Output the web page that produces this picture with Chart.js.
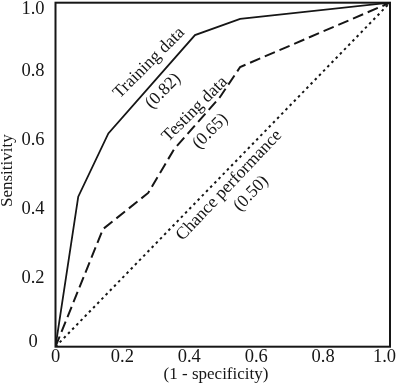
<!DOCTYPE html>
<html>
<head>
<meta charset="utf-8">
<script src="https://cdn.jsdelivr.net/npm/chart.js@4.4.1/dist/chart.umd.min.js"></script>
<style>
  html, body { margin: 0; padding: 0; background: #fff; }
  #wrap { width: 396px; height: 386px; }
</style>
</head>
<body>
<div id="wrap"><canvas id="roc" width="396" height="386"></canvas></div>
<script>
// ROC curves: [1 - specificity, sensitivity]
const trainingX = [0, 0.068, 0.158, 0.417, 0.552, 1];
const trainingY = [0, 0.436, 0.620, 0.906, 0.953, 1];

const testingX = [0, 0.142, 0.277, 0.355, 0.492, 0.552, 1];
const testingY = [0, 0.342, 0.447, 0.575, 0.726, 0.813, 1];

const chanceX = [0, 1];
const chanceY = [0, 1];

const seriesNames = ['Training data', 'Testing data', 'Chance performance'];
const aucValues = ['(0.82)', '(0.65)', '(0.50)'];

const xTicks = [0, 0.2, 0.4, 0.6, 0.8, 1.0];
const xTickLabels = ['0', '0.2', '0.4', '0.6', '0.8', '1.0'];
const yTicks = [0, 0.2, 0.4, 0.6, 0.8, 1.0];
const yTickLabels = ['0', '0.2', '0.4', '0.6', '0.8', '1.0'];

const xTitle = '(1 - specificity)';
const yTitle = 'Sensitivity';

const toPoints = (xs, ys) => xs.map((v, i) => ({ x: v, y: ys[i] }));

const INK = '#161616';
const SERIF = "'Liberation Serif', 'DejaVu Serif', serif";

// where the curve labels sit (data coords) and how far they tilt
const notePlaces = [
    { name: [0.28, 0.825], auc: [0.322, 0.743], angle: 45 },
    { name: [0.417, 0.69], auc: [0.463, 0.626], angle: 45 },
    { name: [0.519, 0.469], auc: [0.585, 0.445], angle: 46.5 }
];

const frameAndText = {
    id: 'frameAndText',
    afterDatasetsDraw(chart) {
        const { ctx, chartArea: a, scales: { x, y } } = chart;
        ctx.save();

        // box round the plot
        ctx.strokeStyle = INK;
        ctx.lineWidth = 2;
        ctx.strokeRect(a.left, a.top, a.right - a.left, a.bottom - a.top);

        ctx.fillStyle = INK;
        ctx.textAlign = 'center';
        ctx.textBaseline = 'middle';
        ctx.font = '18.5px ' + SERIF;

        // y tick labels (kept inside the box's height, like the original)
        yTicks.forEach((v, i) => {
            let py = y.getPixelForValue(v);
            py = Math.min(Math.max(py, a.top + 6.5), a.bottom - 4.5);
            ctx.fillText(yTickLabels[i], 33, py);
        });

        // x tick labels
        xTicks.forEach((v, i) => {
            let px = x.getPixelForValue(v);
            const w = ctx.measureText(xTickLabels[i]).width;
            px = Math.min(px, chart.width - w / 2);
            ctx.fillText(xTickLabels[i], px, a.bottom + 10);
        });

        // axis titles
        ctx.font = '17px ' + SERIF;
        ctx.fillText(xTitle, 216, a.bottom + 28);
        ctx.save();
        ctx.translate(8, (a.top + a.bottom) / 2 - 4);
        ctx.rotate(-Math.PI / 2);
        ctx.fillText(yTitle, 0, 0);
        ctx.restore();

        // tilted curve labels
        ctx.font = '17.5px ' + SERIF;
        notePlaces.forEach((p, i) => {
            [[seriesNames[i], p.name], [aucValues[i], p.auc]].forEach(([txt, at]) => {
                ctx.save();
                ctx.translate(x.getPixelForValue(at[0]), y.getPixelForValue(at[1]));
                ctx.rotate(-p.angle * Math.PI / 180);
                ctx.fillText(txt, 0, 0);
                ctx.restore();
            });
        });

        ctx.restore();
    }
};

new Chart(document.getElementById('roc'), {
    type: 'scatter',
    data: {
        datasets: [
            {
                label: seriesNames[0],
                data: toPoints(trainingX, trainingY),
                showLine: true,
                borderColor: INK,
                borderWidth: 1.8,
                pointRadius: 0
            },
            {
                label: seriesNames[1],
                data: toPoints(testingX, testingY),
                showLine: true,
                borderColor: INK,
                borderWidth: 2,
                borderDash: [11, 5],
                pointRadius: 0
            },
            {
                label: seriesNames[2],
                data: toPoints(chanceX, chanceY),
                showLine: true,
                borderColor: INK,
                borderWidth: 2,
                borderDash: [2.5, 3.5],
                pointRadius: 0
            }
        ]
    },
    options: {
        responsive: false,
        animation: false,
        layout: {
            padding: { left: 55.5, right: 6, top: 2.7, bottom: 39.3 }
        },
        scales: {
            x: { type: 'linear', min: 0, max: 1, display: false },
            y: { type: 'linear', min: 0, max: 1, display: false }
        },
        plugins: {
            legend: { display: false },
            tooltip: { enabled: false }
        }
    },
    plugins: [frameAndText]
});
</script>
</body>
</html>
